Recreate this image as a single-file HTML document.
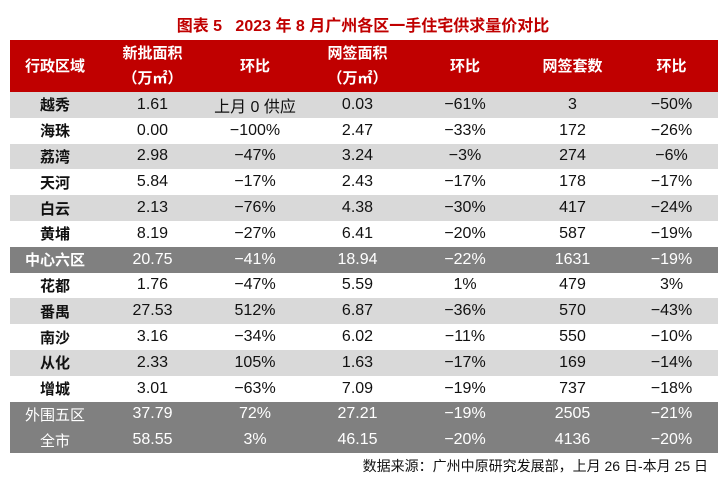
<!DOCTYPE html>
<html><head><meta charset="utf-8"><style>
body{margin:0;width:726px;height:481px;background:#fff;font-family:"Liberation Sans","Noto Sans CJK SC",sans-serif;position:relative;overflow:hidden}
.title{position:absolute;top:12px;left:0;width:726px;text-align:center;color:#c00000;font-weight:bold;font-size:16px}
table{position:absolute;left:10px;top:40px;width:708px;border-collapse:collapse;table-layout:fixed}
td,th{text-align:center;padding:0;font-size:16px;color:#111;white-space:nowrap}
th{background:#c00000;color:#fff;font-size:15px;font-weight:bold;height:52px;line-height:25px}
tr.d td{height:25.8px}
tr.g td{background:#d9d9d9}
tr.k td{background:#808080;color:#fff}
td.n{font-weight:bold;font-size:15px}
.foot{position:absolute;right:18px;top:456px;font-size:14px;color:#111}
</style></head><body>
<div class="title">图表 5&nbsp;&nbsp; 2023 年 8 月广州各区一手住宅供求量价对比</div>
<table>
<colgroup><col style="width:90px"><col style="width:105px"><col style="width:100px"><col style="width:105px"><col style="width:110px"><col style="width:105px"><col style="width:93px"></colgroup>
<tr><th>行政区域</th><th>新批面积<br>（万㎡）</th><th>环比</th><th>网签面积<br>（万㎡）</th><th>环比</th><th>网签套数</th><th>环比</th></tr>
<tr class="d g"><td class="n">越秀</td><td>1.61</td><td>上月 0 供应</td><td>0.03</td><td>−61%</td><td>3</td><td>−50%</td></tr>
<tr class="d"><td class="n">海珠</td><td>0.00</td><td>−100%</td><td>2.47</td><td>−33%</td><td>172</td><td>−26%</td></tr>
<tr class="d g"><td class="n">荔湾</td><td>2.98</td><td>−47%</td><td>3.24</td><td>−3%</td><td>274</td><td>−6%</td></tr>
<tr class="d"><td class="n">天河</td><td>5.84</td><td>−17%</td><td>2.43</td><td>−17%</td><td>178</td><td>−17%</td></tr>
<tr class="d g"><td class="n">白云</td><td>2.13</td><td>−76%</td><td>4.38</td><td>−30%</td><td>417</td><td>−24%</td></tr>
<tr class="d"><td class="n">黄埔</td><td>8.19</td><td>−27%</td><td>6.41</td><td>−20%</td><td>587</td><td>−19%</td></tr>
<tr class="d k"><td class="n">中心六区</td><td>20.75</td><td>−41%</td><td>18.94</td><td>−22%</td><td>1631</td><td>−19%</td></tr>
<tr class="d"><td class="n">花都</td><td>1.76</td><td>−47%</td><td>5.59</td><td>1%</td><td>479</td><td>3%</td></tr>
<tr class="d g"><td class="n">番禺</td><td>27.53</td><td>512%</td><td>6.87</td><td>−36%</td><td>570</td><td>−43%</td></tr>
<tr class="d"><td class="n">南沙</td><td>3.16</td><td>−34%</td><td>6.02</td><td>−11%</td><td>550</td><td>−10%</td></tr>
<tr class="d g"><td class="n">从化</td><td>2.33</td><td>105%</td><td>1.63</td><td>−17%</td><td>169</td><td>−14%</td></tr>
<tr class="d"><td class="n">增城</td><td>3.01</td><td>−63%</td><td>7.09</td><td>−19%</td><td>737</td><td>−18%</td></tr>
<tr class="d k"><td style="font-size:15px">外围五区</td><td>37.79</td><td>72%</td><td>27.21</td><td>−19%</td><td>2505</td><td>−21%</td></tr>
<tr class="d k"><td style="font-size:15px">全市</td><td>58.55</td><td>3%</td><td>46.15</td><td>−20%</td><td>4136</td><td>−20%</td></tr>
</table>
<div class="foot">数据来源：广州中原研究发展部，上月 26 日-本月 25 日</div>
</body></html>
